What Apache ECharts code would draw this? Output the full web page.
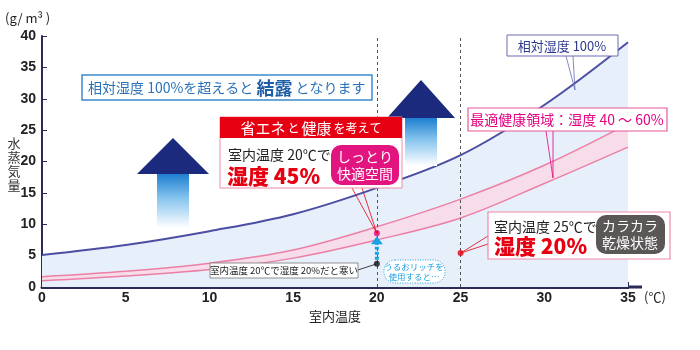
<!DOCTYPE html>
<html><head><meta charset="utf-8">
<script src="https://cdn.jsdelivr.net/npm/echarts@6/dist/echarts.min.js"></script>
<style>html,body{margin:0;padding:0;background:#fff}#c{width:700px;height:350px}</style>
</head><body><div id="c"></div>
<script>
// ---- data ----
const temps   = [0, 5, 10, 15, 20, 25, 30, 35];           // 室内温度 (℃)
const sat100  = [5.1, 6.7, 8.9, 11.6, 15.8, 21.0, 29.0, 39.0]; // 相対湿度100% (g/m³)
const band60  = [1.65, 2.5, 3.8, 5.9, 9.6, 14.0, 19.4, 26.0];  // 最適健康領域 上限
const band40  = [1.0, 1.75, 2.8, 4.6, 7.5, 11.0, 16.5, 22.3];  // 最適健康領域 下限
const xTicks  = [0, 5, 10, 15, 20, 25, 30, 35];
const yTicks  = [0, 5, 10, 15, 20, 25, 30, 35, 40];
const refTemps = [20, 25];
const point45   = [20, 8.55];  // 20℃ 湿度45%
const point20   = [25, 5.4];   // 25℃ 湿度20%
const pointCold = [20, 3.7];   // 20℃ 湿度20%

const CJK = "'Noto Sans CJK JP', sans-serif";
const NUM = "'Liberation Sans Narrow','Liberation Sans', sans-serif";
const AREA = '#e7f0fa';

const chart = echarts.init(document.getElementById('c'), null, {renderer: 'canvas'});

const option = {
  animation: false,
  backgroundColor: '#fff',
  grid: {left: 42, right: 72, top: 36, bottom: 63},
  xAxis: {
    type: 'value', min: xTicks[0], max: xTicks[xTicks.length - 1], interval: 5,
    name: '室内温度', nameLocation: 'middle', nameGap: 13,
    nameTextStyle: {fontFamily: CJK, fontSize: 13, color: '#222'},
    axisLine: {lineStyle: {color: '#2b2b55', width: 3}},
    axisTick: {inside: true, length: 5, lineStyle: {color: '#2b2b55', width: 1}},
    axisLabel: {fontFamily: NUM, fontWeight: 'bold', fontSize: 14, color: '#222', margin: 4},
    splitLine: {show: false}
  },
  yAxis: {
    type: 'value', min: yTicks[0], max: yTicks[yTicks.length - 1], interval: 5,
    axisLine: {show: true, lineStyle: {color: '#2b2b55', width: 2}},
    axisTick: {show: true, inside: true, length: 5, lineStyle: {color: '#2b2b55', width: 1}},
    axisLabel: {fontFamily: NUM, fontWeight: 'bold', fontSize: 14, color: '#222', margin: 6},
    splitLine: {show: false}
  },
  series: [
    {
      type: 'line', name: '相対湿度 100%', data: temps.map((t, i) => [t, sat100[i]]),
      smooth: 0.35, symbol: 'none', z: 2,
      lineStyle: {color: '#4b4ea3', width: 2},
      areaStyle: {color: AREA, opacity: 1}
    },
    {
      type: 'line', name: '60%', data: temps.map((t, i) => [t, band60[i]]),
      smooth: 0.35, symbol: 'none', z: 3,
      lineStyle: {color: '#ec7fa6', width: 1.5},
      areaStyle: {color: '#f7dce9', opacity: 1}
    },
    {
      type: 'line', name: '40%', data: temps.map((t, i) => [t, band40[i]]),
      smooth: 0.35, symbol: 'none', z: 4,
      lineStyle: {color: '#ec7fa6', width: 1.5},
      areaStyle: {color: AREA, opacity: 1},
      markLine: {
        silent: true, symbol: 'none', label: {show: false},
        lineStyle: {color: '#555', type: [3, 3], width: 1},
        data: refTemps.map(t => ({xAxis: t}))
      }
    },
    {type: 'scatter', data: [point45], symbolSize: 6, itemStyle: {color: '#e4007f'}, z: 6},
    {type: 'scatter', data: [point20], symbolSize: 6, itemStyle: {color: '#e60012'}, z: 6},
    {type: 'scatter', data: [pointCold], symbolSize: 6, itemStyle: {color: '#111'}, z: 6}
  ]
};
chart.setOption(option);

const p45 = chart.convertToPixel({gridIndex: 0}, point45);
const p20 = chart.convertToPixel({gridIndex: 0}, point20);
const pc  = chart.convertToPixel({gridIndex: 0}, pointCold);
const xEnd = chart.convertToPixel({gridIndex: 0}, [xTicks[xTicks.length - 1], 0]);

function upArrow(cx, apexY, baseY, headHalf, shaftHalf, shaftEnd) {
  return [
    {type: 'polygon', z: 10, shape: {points: [[cx, apexY], [cx - headHalf, baseY], [cx + headHalf, baseY]]},
     style: {fill: '#1b2a7c'}},
    {type: 'rect', z: 10, shape: {x: cx - shaftHalf, y: baseY, width: shaftHalf * 2, height: shaftEnd - baseY},
     style: {fill: new echarts.graphic.LinearGradient(0, 0, 0, 1, [
       {offset: 0, color: '#1d7fd0'}, {offset: 0.45, color: '#86c4ee'}, {offset: 1, color: '#ffffff'}])}}
  ];
}

const g = [];
// axis extension and units
g.push({type: 'line', z: 5, shape: {x1: xEnd[0], y1: xEnd[1], x2: xEnd[0] + 14, y2: xEnd[1]}, style: {stroke: '#2b2b55', lineWidth: 3}});
g.push({type: 'text', z: 20, style: {text: '(℃)', x: 644, y: 297, verticalAlign: 'middle', font: '13px ' + CJK, fill: '#222'}});
g.push({type: 'text', z: 20, style: {text: '(g/ m³ )', x: 5, y: 18, verticalAlign: 'middle', font: '13px ' + CJK, fill: '#222'}});
g.push({type: 'text', z: 20, style: {text: '水\n蒸\n気\n量', x: 14, y: 164, align: 'center', verticalAlign: 'middle', lineHeight: 14, font: '13px ' + CJK, fill: '#333'}});

// big arrows
g.push(...upArrow(173, 138, 174, 36, 16, 228));
g.push(...upArrow(421, 80, 118, 34, 16, 166));

// condensation note
g.push({type: 'rect', z: 20, shape: {x: 82, y: 75, width: 290, height: 25}, style: {fill: '#fff', stroke: '#3d8bcd', lineWidth: 1.5}});
g.push({type: 'text', z: 21, style: {
  text: '{a|相対湿度 100%を超えると }{b|結露}{a| となります}', x: 88, y: 88, verticalAlign: 'middle',
  rich: {a: {fontFamily: CJK, fontSize: 14, fill: '#2a72b8'}, b: {fontFamily: CJK, fontSize: 18, fontWeight: 'bold', fill: '#1f5fa6'}}
}});

// 20℃ 45% callout
g.push({type: 'polyline', z: 19, shape: {points: [[352, 188], [p45[0], p45[1]], [362, 188]]}, style: {stroke: '#e60012', lineWidth: 0.8, fill: null}});
g.push({type: 'rect', z: 20, shape: {x: 220, y: 117, width: 182, height: 71}, style: {fill: '#fff', stroke: '#f08aa8', lineWidth: 1}});
g.push({type: 'rect', z: 21, shape: {x: 220, y: 117, width: 182, height: 21}, style: {fill: '#e60012'}});
g.push({type: 'text', z: 22, style: {
  text: '{b|省エネ}{s|と}{b|健康}{s|を考えて}', x: 311, y: 128, align: 'center', verticalAlign: 'middle',
  rich: {b: {fontFamily: CJK, fontSize: 15, fill: '#fff', padding: [0, 1]}, s: {fontFamily: CJK, fontSize: 12, fill: '#fff', padding: [0, 1]}}
}});
g.push({type: 'text', z: 22, style: {text: '室内温度 20℃で', x: 228, y: 155, verticalAlign: 'middle', font: '14px ' + CJK, fill: '#222'}});
g.push({type: 'text', z: 22, style: {text: '湿度 45%', x: 227, y: 176, verticalAlign: 'middle', font: '900 21px ' + CJK, fill: '#e60012'}});
g.push({type: 'rect', z: 22, shape: {x: 331, y: 145, width: 68, height: 40, r: 10}, style: {fill: '#e2147f'}});
g.push({type: 'text', z: 23, style: {text: 'しっとり\n快適空間', x: 365, y: 165, align: 'center', verticalAlign: 'middle', lineHeight: 17, font: '14px ' + CJK, fill: '#fff'}});

// 相対湿度100% label
g.push({type: 'polyline', z: 19, shape: {points: [[566, 56], [575, 90], [573, 56]]}, style: {stroke: '#6a6ab0', lineWidth: 0.8, fill: null}});
g.push({type: 'rect', z: 20, shape: {x: 507, y: 35, width: 111, height: 21}, style: {fill: '#fff', stroke: '#6a6ab0', lineWidth: 1}});
g.push({type: 'text', z: 21, style: {text: '相対湿度 100%', x: 562, y: 46, align: 'center', verticalAlign: 'middle', font: '13px ' + CJK, fill: '#2e3a8c'}});

// 最適健康領域 label
g.push({type: 'polyline', z: 19, shape: {points: [[546, 131], [553, 178], [553, 131]]}, style: {stroke: '#e4007f', lineWidth: 0.8, fill: null}});
g.push({type: 'rect', z: 20, shape: {x: 468, y: 108, width: 199, height: 23}, style: {fill: '#fff', stroke: '#e8589a', lineWidth: 1.2}});
g.push({type: 'text', z: 21, style: {text: '最適健康領域：湿度 40 ～ 60%', x: 567, y: 120, align: 'center', verticalAlign: 'middle', font: '14px ' + CJK, fill: '#e4007f'}});

// 25℃ 20% callout
g.push({type: 'polyline', z: 19, shape: {points: [[488, 236], [p20[0], p20[1]], [488, 244]]}, style: {stroke: '#e60012', lineWidth: 0.8, fill: null}});
g.push({type: 'rect', z: 20, shape: {x: 488, y: 212, width: 182, height: 47}, style: {fill: '#fff', stroke: '#f08aa8', lineWidth: 1.2}});
g.push({type: 'text', z: 21, style: {text: '室内温度 25℃で', x: 494, y: 227, verticalAlign: 'middle', font: '14px ' + CJK, fill: '#222'}});
g.push({type: 'text', z: 21, style: {text: '湿度 20%', x: 494, y: 246, verticalAlign: 'middle', font: '900 21px ' + CJK, fill: '#e60012'}});
g.push({type: 'rect', z: 21, shape: {x: 596, y: 215, width: 69, height: 39, r: 10}, style: {fill: '#5b5757'}});
g.push({type: 'text', z: 22, style: {text: 'カラカラ\n乾燥状態', x: 630, y: 234, align: 'center', verticalAlign: 'middle', lineHeight: 17, font: '14px ' + CJK, fill: '#fff'}});

// cold point label
g.push({type: 'line', z: 19, shape: {x1: 358, y1: 270, x2: pc[0], y2: pc[1]}, style: {stroke: '#111', lineWidth: 0.8}});
g.push({type: 'rect', z: 20, shape: {x: 210, y: 263, width: 148, height: 15}, style: {fill: '#fff', stroke: '#777', lineWidth: 0.8}});
g.push({type: 'text', z: 21, style: {text: '室内温度 20℃で湿度 20%だと寒い', x: 284, y: 270.5, align: 'center', verticalAlign: 'middle', font: '9.5px ' + CJK, fill: '#222'}});

// cyan dashed arrow (cold point -> 45% point)
g.push({type: 'line', z: 18, shape: {x1: pc[0], y1: pc[1] - 4, x2: pc[0], y2: p45[1] + 10}, style: {stroke: '#1ea0e6', lineWidth: 4, lineDash: [3, 2]}});
g.push({type: 'polygon', z: 18, shape: {points: [[p45[0], p45[1] + 3], [p45[0] - 6, p45[1] + 11], [p45[0] + 6, p45[1] + 11]]}, style: {fill: '#1ea0e6'}});
g.push({type: 'rect', z: 18, shape: {x: 384, y: 260, width: 61, height: 23, r: 11}, style: {fill: '#fff', stroke: '#1ea0e6', lineWidth: 1, lineDash: [1, 1.5]}});
g.push({type: 'text', z: 19, style: {text: 'うるおリッチを\n使用すると…', x: 414, y: 271.5, align: 'center', verticalAlign: 'middle', lineHeight: 10, font: '8.5px ' + CJK, fill: '#1b9ee0'}});

chart.setOption({graphic: g});
</script>
</body></html>
